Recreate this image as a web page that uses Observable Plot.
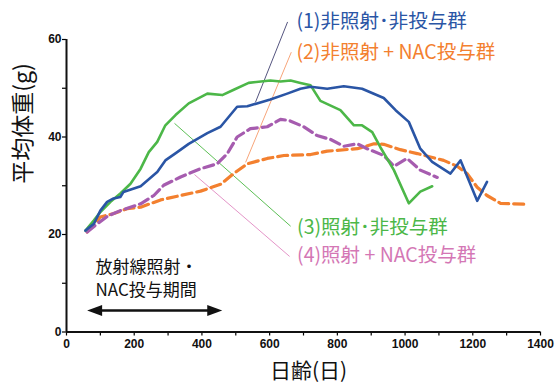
<!DOCTYPE html>
<html><head><meta charset="utf-8">
<script src="https://cdn.jsdelivr.net/npm/d3@7"></script>
<script src="https://cdn.jsdelivr.net/npm/@observablehq/plot@0.6"></script>
<style>body{margin:0;background:#fff}</style>
</head><body><div id="chart"></div>
<script>
// (1) 非照射・非投与群
const days1 = [56,81,100,120,139,159,168,219,268,292,327,361,416,455,504,534,602,652,691,721,770,819,873,937,972,1011,1045,1080,1134,1164,1213,1242];
const w1    = [20.8,22.2,24.9,26.7,27.4,27.7,28.7,29.9,32.8,35.2,36.9,38.6,40.8,42.1,46.2,46.3,47.7,48.9,49.9,50.3,49.9,50.4,49.9,48.0,45.5,43.1,37.6,34.9,32.5,35.2,26.9,30.8];
// (2) 非照射 + NAC投与群
const days2 = [61,100,140,179,219,278,337,396,455,494,534,593,642,721,770,859,908,937,986,1036,1075,1114,1154,1183,1213,1242,1282,1321,1360];
const w2    = [20.5,23.6,24.3,25.3,25.6,27.1,28.0,28.9,30.3,32.5,34.5,35.6,36.2,36.4,37.1,37.6,38.6,38.5,37.4,36.6,35.9,35.2,34.0,32.5,29.7,28.0,26.4,26.3,26.2];
// (3) 照射・非投与群
const days3 = [56,81,100,130,159,189,219,243,268,292,322,361,416,460,494,538,602,632,662,691,721,750,809,849,873,903,927,967,1011,1045,1080];
const w3    = [20.8,22.9,24.6,26.7,28.4,30.4,33.5,36.9,39.0,42.4,44.5,46.9,48.9,48.6,49.7,51.1,51.6,51.4,51.6,51.1,50.6,47.4,45.5,42.4,42.4,41.0,37.9,33.2,26.4,28.8,29.9];
// (4) 照射 + NAC投与群
const days4 = [61,91,120,159,219,258,287,337,396,445,475,504,543,593,632,657,701,740,780,819,859,888,937,967,1006,1045,1095];
const w4    = [20.5,22.2,23.7,24.9,26.3,28.0,30.1,31.8,33.5,34.5,36.6,40.0,41.7,42.1,43.6,43.4,42.1,40.3,39.5,38.1,38.6,37.6,36.2,34.0,35.6,33.2,31.7];

const seriesNames = ["(1)非照射･非投与群","(2)非照射 + NAC投与群","(3)照射･非投与群","(4)照射 + NAC投与群"];
const seriesColors = ["#2a55a5","#f3802f","#4cb748","#a65caf"];
const labelColors = ["#2a55a5","#f3802f","#4cb748","#d477b5"];
const leaderColors = ["#55557f","#f7a57a","#5cbf55","#e495c8"];
// label anchor (day, g) and leader line endpoints (from curve to label)
const labelDay = [679,679,681,681];
const labelG   = [63.6,57.2,21.4,15.6];
const leaderFromDay = [558,529,319,378];
const leaderFromG   = [47.1,34.8,42.8,32.3];
const leaderToDay   = [653,664,662,659];
const leaderToG     = [63.6,57.4,21.7,15.5];

const xMajor = [0,200,400,600,800,1000,1200,1400];
const xMinor = [100,300,500,700,900,1100,1300];
const yMajor = [0,20,40,60];
const yMinor = [10,30,50];

const periodDays = [61,460];
const periodG = 4.4;
const periodText = ["放射線照射・","NAC投与期間"];
const periodTextG = [13.3,8.6];

const rows = (ds, ws) => ds.map((d,i)=>({day:d, g:ws[i]}));
const s1 = rows(days1,w1), s2 = rows(days2,w2), s3 = rows(days3,w3), s4 = rows(days4,w4);
const labels = seriesNames.map((t,i)=>({t, day:labelDay[i], g:labelG[i], c:labelColors[i]}));
const leaders = seriesNames.map((t,i)=>({x1:leaderFromDay[i], y1:leaderFromG[i], x2:leaderToDay[i], y2:leaderToG[i], c:leaderColors[i]}));

// arrowhead symbol with its tip at the origin, pointing right
const arrowHead = {draw(ctx) { ctx.moveTo(0,0); ctx.lineTo(-15,-5.5); ctx.lineTo(-15,5.5); ctx.closePath(); }};

const jp = "'Noto Sans CJK JP', 'Noto Sans', sans-serif";
const num = "'Liberation Sans', Arial, sans-serif";

const chart = Plot.plot({
  width: 556, height: 387,
  marginLeft: 66, marginRight: 16, marginTop: 39, marginBottom: 55.5,
  x: {domain: [0,1400]},
  y: {domain: [0,60]},
  style: {background: "#fff", overflow: "visible"},
  marks: [
    Plot.axisX({ticks: xMinor, tickFormat: () => "", tickSize: 4, label: null, strokeWidth: 1.2}),
    Plot.axisX({ticks: xMajor, tickFormat: d => String(d), tickSize: 4, tickPadding: 3, label: null, fontSize: 12, fontWeight: "bold", fontFamily: num, fill: "#111", strokeWidth: 1.2}),
    Plot.axisY({ticks: yMinor, tickFormat: () => "", tickSize: 4, label: null, strokeWidth: 1.2}),
    Plot.axisY({ticks: yMajor, tickFormat: d => String(d), tickSize: 4, tickPadding: 1, label: null, fontSize: 12, fontWeight: "bold", fontFamily: num, fill: "#111", strokeWidth: 1.2}),
    Plot.ruleY([0], {stroke: "#111", strokeWidth: 2}),
    Plot.ruleX([0], {stroke: "#111", strokeWidth: 2}),
    Plot.link(leaders, {x1:"x1", y1:"y1", x2:"x2", y2:"y2", stroke: d=>d.c, strokeWidth: 1}),
    Plot.line(s2, {x:"day", y:"g", stroke: seriesColors[1], strokeWidth: 3.2, strokeDasharray: "10,5"}),
    Plot.line(s4, {x:"day", y:"g", stroke: seriesColors[3], strokeWidth: 3.2, strokeDasharray: "10,5"}),
    Plot.line(s3, {x:"day", y:"g", stroke: seriesColors[2], strokeWidth: 2.6}),
    Plot.line(s1, {x:"day", y:"g", stroke: seriesColors[0], strokeWidth: 2.6}),
    Plot.text(labels, {x:"day", y:"g", text:"t", fill: d=>d.c, textAnchor: "start", fontSize: 19.5, fontFamily: jp}),
    Plot.text(periodText, {x: 0, y: (d,i)=>periodTextG[i], text: d=>d, dx: 29, textAnchor: "start", fontSize: 17, fontFamily: jp, fill: "#111"}),
    Plot.link([periodDays], {x1: d=>d[0] + 15, x2: d=>d[1] - 15, y1: periodG, y2: periodG, stroke: "#111", strokeWidth: 2.5}),
    Plot.dot(periodDays, {x: d=>d, y: periodG, symbol: arrowHead, r: 5, fill: "#111", stroke: null, rotate: (d,i)=> i===0 ? 180 : 0})
    ,
    Plot.text(["平均体重(g)"], {frameAnchor: "left", text: d=>d, rotate: -90, dx: -43, dy: -2, fontSize: 23, fontFamily: jp, fill: "#111"}),
    Plot.text(["日齢(日)"], {frameAnchor: "bottom", text: d=>d, dx: 5, dy: 46, fontSize: 21, fontFamily: jp, fill: "#111"})
  ]
});
document.getElementById("chart").appendChild(chart);
</script>
</body></html>
